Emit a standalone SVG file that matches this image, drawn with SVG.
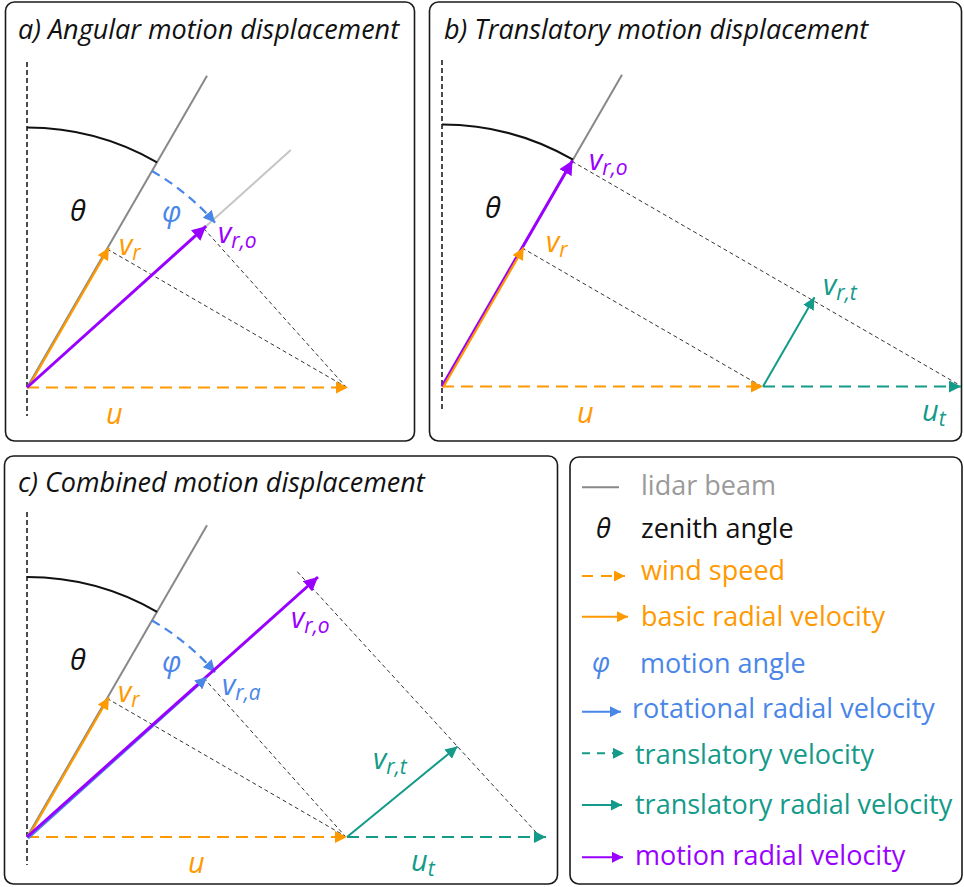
<svg xmlns="http://www.w3.org/2000/svg" width="964" height="887" viewBox="0 0 964 887">
<defs>
<style>
.box{fill:#fff;stroke:#1a1a1a;stroke-width:1.6}
.title{font-family:"Open Sans","Liberation Sans",sans-serif;font-style:italic;font-size:27px;fill:#111}
.lbl{font-family:"Open Sans","Liberation Sans",sans-serif;font-style:italic;font-size:29px}
.sub{font-size:21px}
.leg{font-family:"Open Sans","Liberation Sans",sans-serif;font-size:27px}
.vert{stroke:#111;stroke-width:1.5;stroke-dasharray:5 3;fill:none}
.proj{stroke:#333;stroke-width:1;stroke-dasharray:4 3;fill:none}
.beam{stroke:#888;stroke-width:2;fill:none}
.beam2{stroke:#c6c6c6;stroke-width:2;fill:none}
.theta{stroke:#111;stroke-width:2.2;fill:none}
.phi{stroke:#4a86e8;stroke-width:2.2;stroke-dasharray:9 6;fill:none}
.or{stroke:#ff9900;stroke-width:2.2;fill:none}
.ordash{stroke:#ff9900;stroke-width:2;stroke-dasharray:12 7;fill:none}
.te{stroke:#139a89;stroke-width:2;fill:none}
.tedash{stroke:#139a89;stroke-width:2;stroke-dasharray:12 7;fill:none}
.pu{stroke:#9900ff;stroke-width:3;fill:none}
.bl{stroke:#4a86e8;stroke-width:2.5;fill:none}
.c-or{fill:#ff9900}.c-pu{fill:#9900ff}.c-bl{fill:#4a86e8}.c-te{fill:#139a89}.c-k{fill:#111}.c-gr{fill:#9a9a9a}
</style>
<marker id="aO" markerUnits="userSpaceOnUse" markerWidth="13" markerHeight="12" refX="12" refY="6" orient="auto"><path d="M0,0L12,6L0,12z" fill="#ff9900"/></marker>
<marker id="aT" markerUnits="userSpaceOnUse" markerWidth="13" markerHeight="12" refX="12" refY="6" orient="auto"><path d="M0,0L12,6L0,12z" fill="#139a89"/></marker>
<marker id="aB" markerUnits="userSpaceOnUse" markerWidth="13" markerHeight="12" refX="12" refY="6" orient="auto"><path d="M0,0L12,6L0,12z" fill="#4a86e8"/></marker>
<marker id="aP" markerUnits="userSpaceOnUse" markerWidth="15" markerHeight="14" refX="14" refY="7" orient="auto"><path d="M0,0L14,7L0,14z" fill="#9900ff"/></marker>
<marker id="sO" markerUnits="userSpaceOnUse" markerWidth="12" markerHeight="11" refX="11" refY="5.5" orient="auto"><path d="M0,0L11,5.5L0,11z" fill="#ff9900"/></marker>
<marker id="sT" markerUnits="userSpaceOnUse" markerWidth="12" markerHeight="11" refX="11" refY="5.5" orient="auto"><path d="M0,0L11,5.5L0,11z" fill="#139a89"/></marker>
<marker id="sB" markerUnits="userSpaceOnUse" markerWidth="12" markerHeight="11" refX="11" refY="5.5" orient="auto"><path d="M0,0L11,5.5L0,11z" fill="#4a86e8"/></marker>
<marker id="sP" markerUnits="userSpaceOnUse" markerWidth="12" markerHeight="11" refX="11" refY="5.5" orient="auto"><path d="M0,0L11,5.5L0,11z" fill="#9900ff"/></marker>
</defs>
<rect width="964" height="887" fill="#fff"/>

<!-- Panel a -->
<g id="panel-a">
<rect class="box" x="5.5" y="2" width="409" height="439" rx="9"/>
<text class="title" x="18" y="38.5">a) Angular motion displacement</text>
<g id="a-connectors">
<line class="vert" x1="27" y1="62" x2="27" y2="416"/>
<line class="beam" x1="27" y1="387.5" x2="207" y2="75.7"/>
<line class="beam2" x1="202.4" y1="229.6" x2="290.8" y2="150"/>
<path class="theta" d="M27,127.5A260,260 0 0,1 157,162.33"/>
<path class="phi" d="M152,171A250,250 0 0,1 215.1,222.8" marker-end="url(#aB)"/>
<line class="proj" x1="107" y1="248.9" x2="346" y2="387"/>
<line class="proj" x1="203.7" y1="228.4" x2="346" y2="387"/>
<line class="ordash" x1="27" y1="387.5" x2="348" y2="387.5" marker-end="url(#aO)"/>
<line class="or" x1="27.9" y1="388" x2="108.9" y2="247.7" marker-end="url(#aO)"/>
<line class="pu" x1="27" y1="387.5" x2="206.1" y2="226.2" marker-end="url(#aP)"/>
</g>
<text class="lbl c-k" x="70" y="221">θ</text>
<text class="lbl c-bl" x="162" y="222">φ</text>
<text class="lbl c-or" x="119" y="255">v<tspan class="sub" dy="5">r</tspan></text>
<text class="lbl c-pu" x="218" y="243">v<tspan class="sub" dy="5">r,o</tspan></text>
<text class="lbl c-or" x="106" y="424">u</text>
</g>

<!-- Panel b -->
<g id="panel-b">
<rect class="box" x="429.5" y="2" width="532" height="439" rx="9"/>
<text class="title" x="444" y="39">b) Translatory motion displacement</text>
<g id="b-connectors">
<line class="vert" x1="442" y1="60" x2="442" y2="412"/>
<line class="beam" x1="442" y1="386.5" x2="622" y2="74.7"/>
<path class="theta" d="M442,124.5A262,262 0 0,1 573,159.6"/>
<line class="proj" x1="522" y1="247.9" x2="761" y2="386"/>
<line class="proj" x1="572" y1="161.3" x2="958" y2="384.2"/>
<line class="ordash" x1="442" y1="386.5" x2="763" y2="386.5" marker-end="url(#aO)"/>
<line class="tedash" x1="763" y1="386.5" x2="961" y2="386.5" marker-end="url(#aT)"/>
<line class="te" x1="763" y1="386.5" x2="814.5" y2="297.3" marker-end="url(#aT)"/>
<line class="pu" x1="442" y1="386.5" x2="572.5" y2="160.5" marker-end="url(#aP)"/>
<line class="or" x1="443.2" y1="387.2" x2="523.7" y2="247.6" marker-end="url(#aO)"/>
</g>
<text class="lbl c-k" x="485" y="218">θ</text>
<text class="lbl c-pu" x="589" y="170">v<tspan class="sub" dy="5">r,o</tspan></text>
<text class="lbl c-or" x="546" y="252">v<tspan class="sub" dy="5">r</tspan></text>
<text class="lbl c-te" x="823" y="295">v<tspan class="sub" dy="5">r,t</tspan></text>
<text class="lbl c-or" x="577" y="423">u</text>
<text class="lbl c-te" x="922" y="421">u<tspan class="sub" dy="5">t</tspan></text>
</g>

<!-- Panel c -->
<g id="panel-c">
<rect class="box" x="4.5" y="456" width="553" height="428" rx="9"/>
<text class="title" x="18" y="491.5">c) Combined motion displacement</text>
<g id="c-connectors">
<line class="vert" x1="27" y1="512" x2="27" y2="865"/>
<line class="beam" x1="27" y1="837" x2="207" y2="525.2"/>
<path class="theta" d="M27,577A260,260 0 0,1 157,611.83"/>
<path class="phi" d="M152,620.5A250,250 0 0,1 215.1,672.3" marker-end="url(#aB)"/>
<line class="proj" x1="107" y1="698.4" x2="345" y2="836"/>
<line class="proj" x1="203.7" y1="677.9" x2="345" y2="836"/>
<line class="proj" x1="297.3" y1="571.7" x2="539" y2="835.5"/>
<line class="ordash" x1="27" y1="837" x2="347" y2="837" marker-end="url(#aO)"/>
<line class="tedash" x1="347" y1="837" x2="546" y2="837" marker-end="url(#aT)"/>
<line class="te" x1="347" y1="837" x2="457.5" y2="746.5" marker-end="url(#aT)"/>
<line class="or" x1="27.9" y1="837.5" x2="108.9" y2="697.2" marker-end="url(#aO)"/>
<line class="bl" x1="28" y1="838.2" x2="206" y2="678"/>
<line class="pu" x1="27" y1="837" x2="318" y2="577" marker-end="url(#aP)"/>
<path d="M204.9,678.9L207.1,676.9" stroke="none" fill="none" marker-end="url(#aB)"/>
</g>
<text class="lbl c-k" x="70" y="670">θ</text>
<text class="lbl c-bl" x="162" y="672">φ</text>
<text class="lbl c-or" x="118" y="702">v<tspan class="sub" dy="5">r</tspan></text>
<text class="lbl c-bl" x="222" y="695">v<tspan class="sub" dy="5">r,a</tspan></text>
<text class="lbl c-pu" x="291" y="628">v<tspan class="sub" dy="5">r,o</tspan></text>
<text class="lbl c-te" x="373" y="769">v<tspan class="sub" dy="5">r,t</tspan></text>
<text class="lbl c-or" x="188" y="873">u</text>
<text class="lbl c-te" x="411" y="871">u<tspan class="sub" dy="5">t</tspan></text>
</g>

<!-- Legend -->
<g id="legend">
<rect class="box" x="570" y="457" width="392" height="427" rx="9"/>
<g id="legend-lidar"><line x1="582" y1="487.3" x2="619" y2="487.3" stroke="#888" stroke-width="2"/><text class="leg c-gr" x="641" y="495">lidar beam</text></g>
<g id="legend-zenith"><text class="lbl c-k" x="596" y="537.5" style="font-size:27px">θ</text><text class="leg c-k" x="641" y="537.5">zenith angle</text></g>
<g id="legend-wind"><line x1="582" y1="576" x2="625" y2="576" stroke="#ff9900" stroke-width="2" stroke-dasharray="11 8" marker-end="url(#sO)"/><text class="leg c-or" x="641" y="580">wind speed</text></g>
<g id="legend-basic"><line x1="582" y1="616.7" x2="628" y2="616.7" stroke="#ff9900" stroke-width="2" marker-end="url(#sO)"/><text class="leg c-or" x="641" y="626">basic radial velocity</text></g>
<g id="legend-phi"><text class="lbl c-bl" x="592" y="672" style="font-size:27px">φ</text><text class="leg c-bl" x="640" y="673">motion angle</text></g>
<g id="legend-rot"><line x1="582" y1="711.7" x2="621" y2="711.7" stroke="#4a86e8" stroke-width="2" marker-end="url(#sB)"/><text class="leg c-bl" x="632" y="718.3">rotational radial velocity</text></g>
<g id="legend-trans"><line x1="582" y1="753.3" x2="624" y2="753.3" stroke="#139a89" stroke-width="2" stroke-dasharray="8 7" marker-end="url(#sT)"/><text class="leg c-te" x="635" y="764">translatory velocity</text></g>
<g id="legend-transrad"><line x1="582" y1="805" x2="622" y2="805" stroke="#139a89" stroke-width="2" marker-end="url(#sT)"/><text class="leg c-te" x="635" y="814">translatory radial velocity</text></g>
<g id="legend-motion"><line x1="582" y1="857.3" x2="623" y2="857.3" stroke="#9900ff" stroke-width="2" marker-end="url(#sP)"/><text class="leg c-pu" x="635" y="865">motion radial velocity</text></g>
</g>
</svg>
